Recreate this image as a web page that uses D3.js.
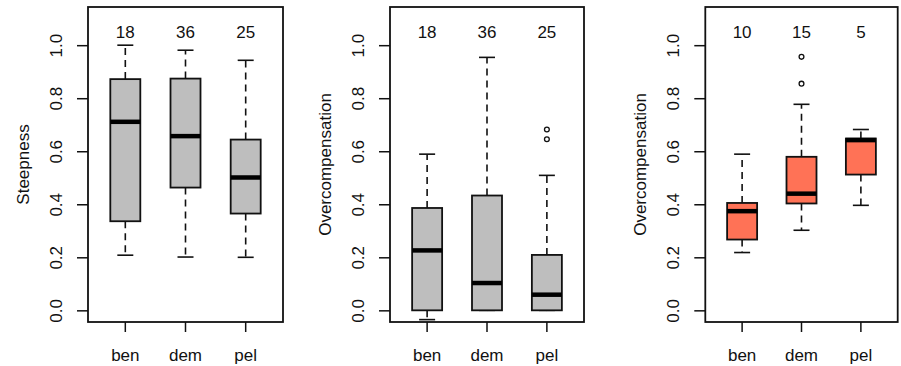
<!DOCTYPE html>
<html>
<head>
<meta charset="utf-8">
<script src="https://cdn.jsdelivr.net/npm/d3@7"></script>
<style>
  html, body { margin: 0; padding: 0; background: #fff; }
  svg text { font-family: "Liberation Sans", Arial, sans-serif; fill: #111; }
</style>
</head>
<body>
<svg id="chart" width="901" height="366"></svg>
<script>
// Groups shown on every panel
const categories = ["ben", "dem", "pel"];
const yTicks = [0, 0.2, 0.4, 0.6, 0.8, 1.0];

// Box statistics per group: [lower whisker, Q1, median, Q3, upper whisker]
const steepnessStats = [
  [0.208, 0.336, 0.711, 0.872, 1.000],
  [0.201, 0.463, 0.657, 0.874, 0.981],
  [0.200, 0.365, 0.501, 0.644, 0.943]
];
const steepnessOutliers = [[], [], []];
const steepnessCounts = [18, 36, 25];

const overcompStats = [
  [-0.035, 0.000, 0.226, 0.386, 0.589],
  [0.000, 0.000, 0.103, 0.433, 0.954],
  [0.000, 0.000, 0.059, 0.209, 0.509]
];
const overcompOutliers = [[], [], [0.645, 0.682]];
const overcompCounts = [18, 36, 25];

const subsetStats = [
  [0.218, 0.267, 0.374, 0.405, 0.589],
  [0.302, 0.403, 0.440, 0.579, 0.777],
  [0.396, 0.512, 0.642, 0.648, 0.682]
];
const subsetOutliers = [[], [0.855, 0.956], []];
const subsetCounts = [10, 15, 5];

const panelTitles = ["Steepness", "Overcompensation", "Overcompensation"];
const panelFills = ["#bebebe", "#bebebe", "#ff7256"];

const panels = [
  { stats: steepnessStats, outliers: steepnessOutliers, counts: steepnessCounts, left: 88, right: 283 },
  { stats: overcompStats, outliers: overcompOutliers, counts: overcompCounts, left: 390, right: 584 },
  { stats: subsetStats, outliers: subsetOutliers, counts: subsetCounts, left: 705.3, right: 897.7 }
];

const svg = d3.select("#chart");
const plotTop = 7, plotBottom = 322;
const countY = 1.05;
const fontSize = 17;

panels.forEach((p, i) => {
  const g = svg.append("g");
  const y = d3.scaleLinear().domain([-0.044, 1.144]).range([plotBottom, plotTop]);
  const x = d3.scaleLinear().domain([0.38, 3.62]).range([p.left, p.right]);
  const xPos = c => x(categories.indexOf(c) + 1);
  const boxHalf = 15, stapleHalf = 8;

  // Y axis ticks and rotated labels
  const yAxis = g.append("g").attr("transform", `translate(${p.left},0)`)
    .call(d3.axisLeft(y).tickValues(yTicks).tickSize(11).tickFormat(d3.format(".1f")));
  yAxis.select(".domain").remove();
  yAxis.selectAll("line").attr("stroke", "#111").attr("stroke-width", 1.5);
  yAxis.selectAll("text").remove();
  yAxis.selectAll(".tick").append("text")
    .attr("transform", "translate(-26,0) rotate(-90)")
    .attr("text-anchor", "middle")
    .attr("font-size", fontSize)
    .text(d => d3.format(".1f")(d));

  // X axis ticks and group labels
  const xAxis = g.append("g").attr("transform", `translate(0,${plotBottom})`);
  categories.forEach(c => {
    xAxis.append("line").attr("x1", xPos(c)).attr("x2", xPos(c))
      .attr("y1", 0).attr("y2", 10).attr("stroke", "#111").attr("stroke-width", 1.5);
    xAxis.append("text").attr("x", xPos(c)).attr("y", 39)
      .attr("text-anchor", "middle").attr("font-size", fontSize).text(c);
  });

  // Axis title
  g.append("text")
    .attr("transform", `translate(${p.left - 59},${(plotTop + plotBottom) / 2}) rotate(-90)`)
    .attr("text-anchor", "middle").attr("font-size", fontSize)
    .text(panelTitles[i]);

  // Boxes
  categories.forEach((c, k) => {
    const [lo, q1, med, q3, hi] = p.stats[k];
    const cx = xPos(c);
    const bg = g.append("g");
    // whiskers
    bg.append("line").attr("x1", cx).attr("x2", cx).attr("y1", y(q3)).attr("y2", y(hi))
      .attr("stroke", "#111").attr("stroke-width", 1.6).attr("stroke-dasharray", "7,5");
    bg.append("line").attr("x1", cx).attr("x2", cx).attr("y1", y(q1)).attr("y2", y(lo))
      .attr("stroke", "#111").attr("stroke-width", 1.6).attr("stroke-dasharray", "7,5");
    // staples
    [lo, hi].forEach(v => {
      bg.append("line").attr("x1", cx - stapleHalf).attr("x2", cx + stapleHalf)
        .attr("y1", y(v)).attr("y2", y(v)).attr("stroke", "#111").attr("stroke-width", 1.6);
    });
    // box
    bg.append("rect").attr("x", cx - boxHalf).attr("width", 2 * boxHalf)
      .attr("y", y(q3)).attr("height", y(q1) - y(q3))
      .attr("fill", panelFills[i]).attr("stroke", "#111").attr("stroke-width", 1.8);
    // median
    bg.append("line").attr("x1", cx - boxHalf).attr("x2", cx + boxHalf)
      .attr("y1", y(med)).attr("y2", y(med)).attr("stroke", "#000").attr("stroke-width", 4.5);
    // outliers
    p.outliers[k].forEach(v => {
      bg.append("circle").attr("cx", cx).attr("cy", y(v)).attr("r", 2.4)
        .attr("fill", "none").attr("stroke", "#111").attr("stroke-width", 1.3);
    });
    // sample size
    g.append("text").attr("x", cx).attr("y", y(countY) + 6)
      .attr("text-anchor", "middle").attr("font-size", fontSize).text(p.counts[k]);
  });

  // Plot frame
  g.append("rect").attr("x", p.left).attr("y", plotTop)
    .attr("width", p.right - p.left).attr("height", plotBottom - plotTop)
    .attr("fill", "none").attr("stroke", "#111").attr("stroke-width", 1.8);
});
</script>
</body>
</html>
